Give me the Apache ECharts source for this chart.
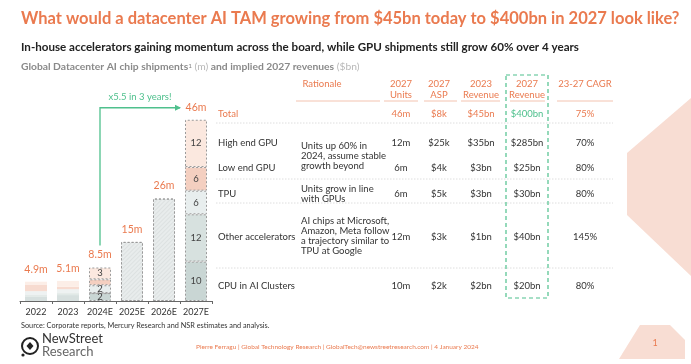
<!DOCTYPE html>
<html><head><meta charset="utf-8">
<script src="https://cdn.jsdelivr.net/npm/echarts@6/dist/echarts.min.js"></script>
<style>html,body{margin:0;padding:0;background:#fff}#c{width:691px;height:364px}</style>
</head><body><div id="c"></div>
<script>
// ---------- DATA ----------
const years = ['2022','2023','2024E','2025E','2026E','2027E'];
const cpu      = [1.1, 1.5, 2, '-', '-', 10];
const otherAcc = [0.4, 0.5, 0, '-', '-', 12];
const tpu      = [1.0, 1.0, 2, '-', '-', 6];
const lowGpu   = [1.6, 0.6, 1.5, '-', '-', 6];
const highGpu  = [0.8, 1.5, 3, '-', '-', 12];
const unsplit  = ['-', '-', '-', 15, 26, '-'];
const totals   = [4.9, 5.1, 8.5, 15, 26, 46];
const totalLabels = ['4.9m','5.1m','8.5m','15m','26m','46m'];
const labelledYears = ['2024E','2027E'];

const headers1 = ['', 'Rationale', '2027', '2027', '2023', '2027', '23-27 CAGR'];
const headers2 = ['', '', 'Units', 'ASP', 'Revenue', 'Revenue', ''];
const rowNames = ['Total','High end GPU','Low end GPU','TPU','Other accelerators','CPU in AI Clusters'];
const units   = ['46m','12m','6m','6m','12m','10m'];
const asp     = ['$8k','$25k','$4k','$5k','$3k','$2k'];
const rev2023 = ['$45bn','$35bn','$3bn','$3bn','$1bn','$2bn'];
const rev2027 = ['$400bn','$285bn','$25bn','$30bn','$40bn','$20bn'];
const cagr    = ['75%','70%','80%','80%','145%','80%'];
const rationale = [
  [],
  ['Units up 60% in','2024, assume stable','growth beyond'],
  [],
  ['Units grow in line','with GPUs'],
  ['AI chips at Microsoft,','Amazon, Meta follow','a trajectory similar to','TPU at Google'],
  []
];

// ---------- STYLE ----------
const ORANGE = '#ea7a4f', GREEN = '#4fc08d', DARK = '#333333';
const FONT = 'Lato, "Noto Sans", sans-serif';
const colors = {cpu:'#c9d6d4', other:'#d7e1df', tpu:'#e8eeee', low:'#f4cfc0', high:'#fbe8df'};

function mk(name, arr, color){
  return {
    name, type:'bar', stack:'s', barWidth:22,
    data: arr.map((v,i)=>{
      const faded = i < 2;
      return {
        value: v,
        itemStyle: faded ? {color, opacity:0.75, borderWidth:0}
                         : {color, borderColor:'#9a9a9a', borderWidth:1, borderType:[2,2]},
        label: {show: labelledYears.includes(years[i]) && v !== '-' && v >= 2}
      };
    }),
    label:{position:'inside', color:'#444', fontSize:9.5, fontFamily:FONT},
    emphasis:{disabled:true}
  };
}

const chart = echarts.init(document.getElementById('c'), null, {renderer:'canvas'});
const series = [
  mk('CPU in AI Clusters', cpu, colors.cpu),
  mk('Other accelerators', otherAcc, colors.other),
  mk('TPU', tpu, colors.tpu),
  mk('Low end GPU', lowGpu, colors.low),
  mk('High end GPU', highGpu, colors.high),
  {
    name:'Not split', type:'bar', stack:'s', barWidth:22,
    data: unsplit,
    itemStyle:{color:'#e8ecec', borderColor:'#9a9a9a', borderWidth:1, borderType:[2,2],
      decal:{symbol:'rect', symbolSize:1, dashArrayX:[[1,0]], dashArrayY:[1,2], rotation:-Math.PI/4, color:'rgba(120,130,130,0.10)'}},
    emphasis:{disabled:true}
  },
  {
    name:'Total', type:'bar', barWidth:22, barGap:'-100%', z:0,
    data: totals,
    itemStyle:{color:'rgba(0,0,0,0)'},
    label:{show:true, position:'top', distance:7, color:ORANGE, fontSize:10.5, fontFamily:FONT,
      formatter:p=>totalLabels[p.dataIndex]},
    emphasis:{disabled:true}
  }
];

chart.setOption({
  animation:false,
  grid:{left:20, top:104, width:192, height:197},
  xAxis:{type:'category', data:years,
    axisLine:{lineStyle:{color:'#666'}},
    axisTick:{show:true, length:3, lineStyle:{color:'#666'}},
    axisLabel:{interval:0, color:DARK, fontSize:9, fontFamily:FONT, margin:7}},
  yAxis:{type:'value', min:0, max:50, show:false},
  series
});

// ---------- TEXT / TABLE GRAPHICS ----------
const g = [];
function txt(x,y,text,opt={}){
  g.push({type:'text', x, y, silent:true, style:Object.assign({text, fill:DARK, fontSize:9.5, fontFamily:FONT,
    textAlign:'left', textVerticalAlign:'middle'}, opt)});
}
// decorative background shapes
g.push({type:'polygon', silent:true, shape:{points:[[691,98],[627,153],[627,215],[691,276]]}, style:{fill:'#f8ddd3'}, z:-1});
g.push({type:'polygon', silent:true, shape:{points:[[619,359],[640,325],[670,325],[685,340],[685,359]]}, style:{fill:'#f8ddd3'}, z:-1});
txt(655,343,'1',{fill:ORANGE, fontSize:9, textAlign:'center'});

// titles
txt(21,19,'What would a datacenter AI TAM growing from $45bn today to $400bn in 2027 look like?',{fill:ORANGE, fontSize:16.5, fontWeight:'bold'});
txt(21,47,'In-house accelerators gaining momentum across the board, while GPU shipments still grow 60% over 4 years',{fill:'#222', fontSize:11.6, fontWeight:'bold'});
g.push({type:'text', x:21, y:67, silent:true, style:{
  text:'{a|Global Datacenter AI chip shipments}{s|1}{b| (m)}{a| and implied 2027 revenues}{b| ($bn)}',
  textVerticalAlign:'middle', fontFamily:FONT,
  rich:{a:{fill:'#8a8a8a', fontSize:10.3, fontWeight:'bold', fontFamily:FONT},
        b:{fill:'#b8b8b8', fontSize:10.3, fontFamily:FONT},
        s:{fill:'#8a8a8a', fontSize:6.5, fontFamily:FONT, verticalAlign:'top'}}}});

// table
const colX = [218, 322, 401, 439, 481, 527, 585];
for(let c=1;c<7;c++){
  txt(colX[c],84,headers1[c],{fill:ORANGE, textAlign:'center'});
  if(headers2[c]) txt(colX[c],94.5,headers2[c],{fill:ORANGE, textAlign:'center'});
}
const ulSeg = [[296,380],[384,418],[424,457],[461,500],[510,545],[557,613]];
ulSeg.forEach(s=>g.push({type:'line', silent:true, shape:{x1:s[0],y1:101,x2:s[1],y2:101}, style:{stroke:'#f3c3b0', lineWidth:1}}));
const rowY = [114,143,168,194,237,286];
const ratY = [[],[146,156,166],[],[189,199],[221,231,241,251],[]];
rowNames.forEach((n,i)=>{
  const col = i===0 ? ORANGE : DARK;
  txt(colX[0],rowY[i],n,{fill:col});
  txt(colX[2],rowY[i],units[i],{fill:col, textAlign:'center'});
  txt(colX[3],rowY[i],asp[i],{fill:col, textAlign:'center'});
  txt(colX[4],rowY[i],rev2023[i],{fill:col, textAlign:'center'});
  txt(colX[5],rowY[i],rev2027[i],{fill: i===0 ? GREEN : DARK, textAlign:'center'});
  txt(colX[6],rowY[i],cagr[i],{fill:col, textAlign:'center'});
  rationale[i].forEach((l,k)=>txt(301,ratY[i][k],l,{fill:DARK}));
});
[123,179,203,268].forEach(y=>g.push({type:'line', silent:true, shape:{x1:216,y1:y,x2:613,y2:y}, style:{stroke:'#d6d6d6', lineWidth:0.8, lineDash:[1.5,1.5]}}));
// green dashed revenue box
g.push({type:'rect', silent:true, shape:{x:506,y:75,width:42,height:223}, style:{fill:'none', stroke:GREEN, lineWidth:1.2, lineDash:[4,3]}});

// source + footer
txt(21,326,'Source: Corporate reports, Mercury Research and NSR estimates and analysis.',{fontSize:7.3, fill:'#333'});
txt(196,347,'Pierre Ferragu | Global Technology Research | GlobalTech@newstreetresearch.com | 4 January 2024',{fontSize:6.5, fill:ORANGE});
g.push({type:'circle', silent:true, shape:{cx:30,cy:346,r:8}, style:{fill:'none', stroke:'#222', lineWidth:2}});
g.push({type:'polygon', silent:true, shape:{points:[[30,342],[33.5,346],[30,350],[26.5,346]]}, style:{fill:'#222'}});
g.push({type:'circle', silent:true, shape:{cx:23,cy:355,r:1.6}, style:{fill:'#222'}});
txt(42,339,'NewStreet',{fontSize:13, fill:'#333'});
txt(42,352,'Research',{fontSize:13, fill:'#666'});

// growth arrow, anchored to the bars via the chart scales
const pA = chart.convertToPixel({seriesIndex:6}, ['2024E', 8.5]);
const pB = chart.convertToPixel({seriesIndex:6}, ['2027E', 46]);
const yTop = pB[1] - 12;
const xEnd = pB[0] - 16;
g.push({type:'polyline', silent:true, shape:{points:[[pA[0], pA[1]-22],[pA[0], yTop],[xEnd, yTop]]}, style:{stroke:GREEN, lineWidth:1.3, fill:'none'}});
g.push({type:'polygon', silent:true, shape:{points:[[xEnd+1,yTop],[xEnd-5,yTop-3],[xEnd-5,yTop+3]]}, style:{fill:GREEN}});
txt((pA[0]+xEnd)/2, yTop-11, 'x5.5 in 3 years!', {fill:GREEN, fontSize:9.5, textAlign:'center'});

chart.setOption({graphic:g});
</script></body></html>
